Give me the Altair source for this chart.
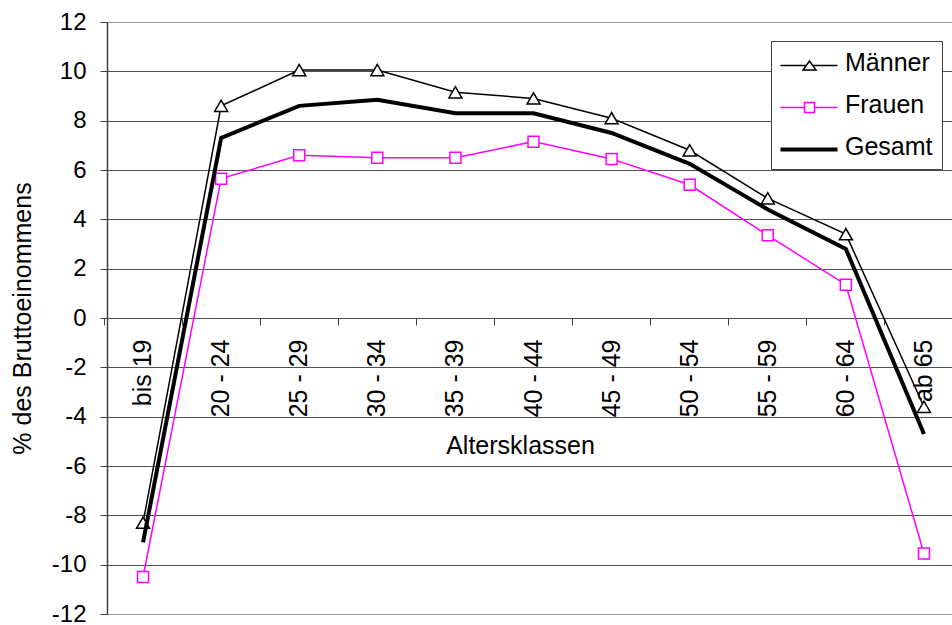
import altair as alt
import pandas as pd

# ---- data ----
klassen = ["bis 19", "20 - 24", "25 - 29", "30 - 34", "35 - 39", "40 - 44",
           "45 - 49", "50 - 54", "55 - 59", "60 - 64", "ab 65"]
maenner = [-8.3, 8.6, 10.05, 10.05, 9.15, 8.9, 8.1, 6.8, 4.85, 3.4, -3.6]
frauen = [-10.5, 5.65, 6.6, 6.5, 6.5, 7.15, 6.45, 5.4, 3.35, 1.35, -9.55]
gesamt = [-9.1, 7.3, 8.6, 8.85, 8.3, 8.3, 7.5, 6.25, 4.4, 2.8, -4.7]
serien = ["Männer", "Frauen", "Gesamt"]
y_ticks = list(range(-12, 13, 2))

rows = []
for name, vals in zip(serien, [maenner, frauen, gesamt]):
    for k, v in zip(klassen, vals):
        rows.append({"Altersklasse": k, "Serie": name, "Wert": v})
df = pd.DataFrame(rows)

FONT = "Liberation Sans"
MAGENTA = "#FF00FF"
DARK = "#404040"

W, H = 845, 592

x_scale = alt.Scale(type="band", domain=klassen, range=[-3, 856],
                    paddingInner=0, paddingOuter=0)
y_scale = alt.Scale(domain=[-12, 12], nice=False, zero=False)

label_axis = alt.Axis(
    orient="bottom", offset=-296, domain=False, ticks=False, tickSize=0,
    grid=False, labelAngle=270, labelFont=FONT, labelFontSize=25,
    labelColor="black", labelPadding=21, labelAlign="right",
    labelBaseline="middle", labelOverlap=False, bandPosition=0.5,
    title="Altersklassen", titleFont=FONT, titleFontSize=25,
    titleFontWeight="normal", titleColor="black", titleX=413, titleY=127,
    titleAlign="center", titleBaseline="middle",
)
tick_axis = alt.Axis(
    orient="bottom", offset=-296, domain=False, labels=False, ticks=True,
    tickSize=7, tickColor=DARK, tickWidth=1, grid=False, title=None,
    bandPosition=0,
)
y_axis = alt.Axis(
    orient="left", values=y_ticks, grid=True,
    gridColor=alt.condition("abs(datum.value) == 12", alt.value("#9a9a9a"), alt.value("#505050")),
    gridWidth=1, domain=True, domainColor=DARK, domainWidth=1.5,
    ticks=True, tickSize=7, tickColor=DARK, tickWidth=1,
    labelFont=FONT, labelFontSize=24, labelColor="black", labelPadding=14,
    labelExpr="'' + datum.value", labelFlush=False, labelOverlap=False,
    title="% des Bruttoeinommens", titleFont=FONT, titleFontSize=25,
    titleFontWeight="normal", titleColor="black", titleAngle=270,
    titleX=-85, titleY=296, titleAlign="center", titleBaseline="middle",
)

base = alt.Chart(df)


def xenc(axis):
    return alt.X("Altersklasse:N", scale=x_scale, sort=klassen, axis=axis)


def yenc():
    return alt.Y("Wert:Q", scale=y_scale, axis=y_axis)


m_line = base.transform_filter(alt.datum.Serie == "Männer").mark_line(
    color="black", strokeWidth=1.5).encode(x=xenc(label_axis), y=yenc())
m_pts = base.transform_filter(alt.datum.Serie == "Männer").mark_point(
    shape="triangle-up", size=169, filled=False, fill="white", stroke="black",
    strokeWidth=1.5, opacity=1).encode(x=xenc(None), y=yenc())
f_line = base.transform_filter(alt.datum.Serie == "Frauen").mark_line(
    color=MAGENTA, strokeWidth=1.5).encode(x=xenc(tick_axis), y=yenc())
f_pts = base.transform_filter(alt.datum.Serie == "Frauen").mark_point(
    shape="square", size=121, filled=False, fill="white", stroke=MAGENTA,
    strokeWidth=1.5, opacity=1).encode(x=xenc(None), y=yenc())
g_line = base.transform_filter(alt.datum.Serie == "Gesamt").mark_line(
    color="black", strokeWidth=4).encode(x=xenc(None), y=yenc())

# legend symbols: line + marker as custom paths (1 unit = 10 px at size 400)
sym_m = ("M-1.2,0.3H1.375M2.025,0.3H4.5"
         "M1.05,0.75L1.7,-0.15L2.35,0.75Z")
sym_f = "M-1.2,0.3H1.2M2.2,0.3H4.5M1.2,-0.2H2.2V0.8H1.2Z"
sym_g = "M-1.2,0.3H4.5"

leg = alt.Legend(
    title=None, orient="none", legendX=664, legendY=19, padding=9,
    strokeColor=DARK, fillColor="white", symbolSize=400,
    symbolFillColor="white", symbolOpacity=1, labelFont=FONT,
    labelFontSize=25, labelColor="black", labelOffset=40, rowPadding=16,
)
legend_layer = base.mark_point(filled=False, fill="white", opacity=0, size=400).encode(
    x=xenc(None), y=yenc(),
    color=alt.Color("Serie:N", scale=alt.Scale(domain=serien, range=["black", MAGENTA, "black"]), legend=leg),
    shape=alt.Shape("Serie:N", scale=alt.Scale(domain=serien, range=[sym_m, sym_f, sym_g]), legend=leg),
    strokeWidth=alt.StrokeWidth("Serie:N", scale=alt.Scale(type="ordinal", domain=serien, range=[1.5, 1.5, 4]), legend=leg),
)

chart = alt.layer(
    m_line, f_line, f_pts, m_pts, g_line, legend_layer
).resolve_axis(x="independent", y="shared").properties(
    width=W, height=H,
    autosize=alt.AutoSizeParams(type="none"),
    padding={"left": 107, "top": 22, "right": 0, "bottom": 11},
    background="white",
).configure_view(stroke="transparent")

chart.save("out.html", embed_options={"renderer": "svg", "actions": False})
